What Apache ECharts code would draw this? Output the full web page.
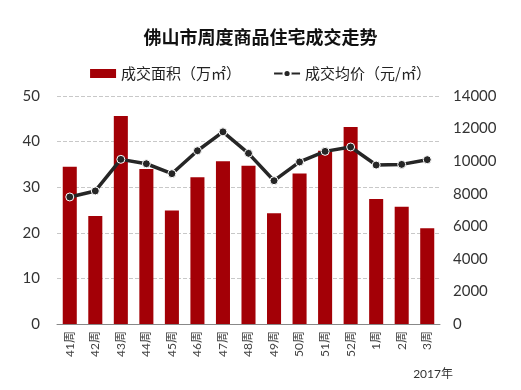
<!DOCTYPE html>
<html><head><meta charset="utf-8">
<script src="https://cdn.jsdelivr.net/npm/echarts@6/dist/echarts.min.js"></script>
<style>html,body{margin:0;padding:0;background:#fff}#c{width:521px;height:390px}</style>
</head><body><div id="c"></div>
<script>
const categories = ['41周','42周','43周','44周','45周','46周','47周','48周','49周','50周','51周','52周','1周','2周','3周'];
const areaValues = [34.5,23.7,45.6,34.0,24.9,32.2,35.7,34.7,24.3,33.0,38.0,43.2,27.4,25.7,21.0];
const priceValues = [7800,8170,10110,9840,9230,10640,11800,10480,8800,9950,10600,10870,9760,9800,10090];
const leftTicks = [0,10,20,30,40,50];
const rightTicks = [0,2000,4000,6000,8000,10000,12000,14000];
const chart = echarts.init(document.getElementById('c'));
const axisFont = 'Lato, "Noto Sans CJK SC", sans-serif';
chart.setOption({
  animation:false,
  backgroundColor:'#fff',
  title:{text:'佛山市周度商品住宅成交走势',left:'center',top:23,
    textStyle:{fontSize:18,fontWeight:'bold',color:'#111',fontFamily:'"Noto Sans CJK SC", sans-serif'}},
  legend:{top:61,left:'center',itemGap:32,itemWidth:26,itemHeight:9,
    textStyle:{fontSize:15,color:'#222',fontFamily:'"Noto Sans CJK SC", sans-serif'},
    data:[{name:'成交面积（万㎡）',icon:'rect'},{name:'成交均价（元/㎡）'}]},
  grid:{left:57,right:81,top:96,bottom:66},
  xAxis:{type:'category',data:categories,
    axisLine:{lineStyle:{color:'#888'}},axisTick:{show:false},
    axisLabel:{rotate:90,fontSize:12,color:'#444',margin:7,fontFamily:axisFont,interval:0}},
  yAxis:[
    {type:'value',min:0,max:50,interval:10,
      axisLabel:{fontSize:15,color:'#333',margin:17,fontFamily:axisFont,formatter:v=>String(v)},
      axisLine:{show:false},axisTick:{show:false},
      splitLine:{lineStyle:{color:'#c8c8c8',type:'dashed'}}},
    {type:'value',min:0,max:14000,interval:2000,
      axisLabel:{fontSize:15,color:'#333',margin:13,fontFamily:axisFont,formatter:v=>String(v)},
      axisLine:{show:false},axisTick:{show:false},splitLine:{show:false}}
  ],
  graphic:[{type:'text',right:68,top:368,style:{text:'2017年',fontSize:12,fill:'#333',fontFamily:axisFont}}],
  series:[
    {name:'成交面积（万㎡）',type:'bar',data:areaValues,barWidth:'55%',
      itemStyle:{color:'#a30006'}},
    {name:'成交均价（元/㎡）',type:'line',yAxisIndex:1,data:priceValues,
      symbol:'circle',symbolSize:8,
      lineStyle:{color:'#262626',width:3.5},
      itemStyle:{color:'#262626',borderColor:'#fff',borderWidth:1}}
  ]
});
</script></body></html>
